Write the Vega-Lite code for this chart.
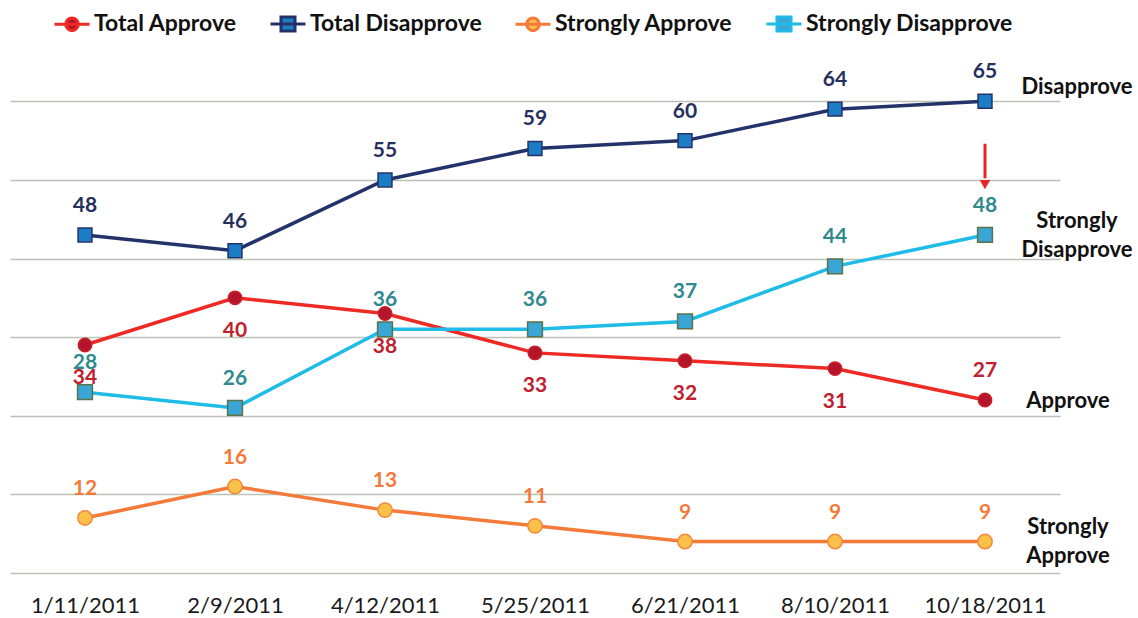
{
  "$schema": "https://vega.github.io/schema/vega-lite/v6.json",
  "autosize": "none",
  "width": 1050,
  "height": 511,
  "padding": {"left": 10, "top": 62, "right": 78, "bottom": 45},
  "background": "white",
  "config": {
    "view": {"stroke": null},
    "font": "Lato"
  },
  "resolve": {"scale": {"color": "independent"}},
  "datasets": {
    "main": [
      {"date": "1/11/2011", "series": "Total Approve", "value": 34},
      {"date": "2/9/2011", "series": "Total Approve", "value": 40},
      {"date": "4/12/2011", "series": "Total Approve", "value": 38},
      {"date": "5/25/2011", "series": "Total Approve", "value": 33},
      {"date": "6/21/2011", "series": "Total Approve", "value": 32},
      {"date": "8/10/2011", "series": "Total Approve", "value": 31},
      {"date": "10/18/2011", "series": "Total Approve", "value": 27},
      {"date": "1/11/2011", "series": "Total Disapprove", "value": 48},
      {"date": "2/9/2011", "series": "Total Disapprove", "value": 46},
      {"date": "4/12/2011", "series": "Total Disapprove", "value": 55},
      {"date": "5/25/2011", "series": "Total Disapprove", "value": 59},
      {"date": "6/21/2011", "series": "Total Disapprove", "value": 60},
      {"date": "8/10/2011", "series": "Total Disapprove", "value": 64},
      {"date": "10/18/2011", "series": "Total Disapprove", "value": 65},
      {"date": "1/11/2011", "series": "Strongly Approve", "value": 12},
      {"date": "2/9/2011", "series": "Strongly Approve", "value": 16},
      {"date": "4/12/2011", "series": "Strongly Approve", "value": 13},
      {"date": "5/25/2011", "series": "Strongly Approve", "value": 11},
      {"date": "6/21/2011", "series": "Strongly Approve", "value": 9},
      {"date": "8/10/2011", "series": "Strongly Approve", "value": 9},
      {"date": "10/18/2011", "series": "Strongly Approve", "value": 9},
      {"date": "1/11/2011", "series": "Strongly Disapprove", "value": 28},
      {"date": "2/9/2011", "series": "Strongly Disapprove", "value": 26},
      {"date": "4/12/2011", "series": "Strongly Disapprove", "value": 36},
      {"date": "5/25/2011", "series": "Strongly Disapprove", "value": 36},
      {"date": "6/21/2011", "series": "Strongly Disapprove", "value": 37},
      {"date": "8/10/2011", "series": "Strongly Disapprove", "value": 44},
      {"date": "10/18/2011", "series": "Strongly Disapprove", "value": 48}
    ],
    "notes": [
      {"date": "10/18/2011", "series": "Total Disapprove", "value": 65, "note": "Disapprove"},
      {"date": "10/18/2011", "series": "Strongly Disapprove", "value": 48, "note": "Strongly|Disapprove"},
      {"date": "10/18/2011", "series": "Total Approve", "value": 27, "note": "Approve"},
      {"date": "10/18/2011", "series": "Strongly Approve", "value": 9, "note": "Strongly|Approve"}
    ],
    "arrow": [
      {"date": "10/18/2011", "from": 59.6, "to": 55.2, "tip": 54.4}
    ]
  },
  "encoding": {
    "x": {
      "field": "date",
      "type": "ordinal",
      "sort": null,
      "scale": {"type": "point", "padding": 0.5, "domain": ["1/11/2011", "2/9/2011", "4/12/2011", "5/25/2011", "6/21/2011", "8/10/2011", "10/18/2011"]},
      "axis": {
        "title": null,
        "labelAngle": 0,
        "labelFont": "Lato",
        "labelFontSize": 22,
        "labelColor": "#1a1a1a",
        "labelPadding": 22,
        "ticks": false,
        "domain": false,
        "grid": false
      }
    }
  },
  "layer": [
    {
      "data": {"name": "main"},
      "mark": {"type": "line", "strokeWidth": 3.5},
      "encoding": {
        "y": {
          "field": "value",
          "type": "quantitative",
          "scale": {"domain": [5, 70], "nice": false, "zero": false},
          "axis": {
            "title": null,
            "labels": false,
            "ticks": false,
            "domain": false,
            "grid": true,
            "gridColor": "#b9c4b6",
            "gridWidth": 1.5,
            "values": [5, 15, 25, 35, 45, 55, 65]
          }
        },
        "color": {
          "field": "series",
          "type": "nominal",
          "scale": {
            "domain": ["Total Approve", "Total Disapprove", "Strongly Approve", "Strongly Disapprove"],
            "range": ["#ee2a24", "#24326a", "#f47a3a", "#1fbce8"]
          },
          "legend": {
            "orient": "none",
            "legendX": 43,
            "legendY": -57,
            "direction": "horizontal",
            "title": null,
            "symbolSize": 1225,
            "symbolStrokeWidth": 3,
            "labelFont": "Lato",
            "labelFontSize": 23,
            "labelFontWeight": "bold",
            "labelColor": "#111111",
            "labelOffset": 3,
            "columnPadding": 27,
            "labelLimit": 400,
            "encode": {
              "symbols": {
                "update": {
                  "size": {"value": 1225},
                  "strokeWidth": {"value": 3},
                  "shape": {"signal": "(datum.value == 'Total Approve' || datum.value == 'Strongly Approve') ? 'M-1,0L1,0M-0.36,0A0.36,0.36,0,1,0,0.36,0A0.36,0.36,0,1,0,-0.36,0Z' : 'M-1,0L1,0M-0.4,-0.4L0.4,-0.4L0.4,0.4L-0.4,0.4Z'"},
                  "fill": {"signal": "datum.value == 'Total Approve' ? '#b5152b' : datum.value == 'Total Disapprove' ? '#1c7cc4' : datum.value == 'Strongly Approve' ? '#f9c14a' : '#3aa6d6'"},
                  "stroke": {"signal": "datum.value == 'Total Approve' ? '#ee2a24' : datum.value == 'Total Disapprove' ? '#24326a' : datum.value == 'Strongly Approve' ? '#f47a3a' : '#1fbce8'"},
                  "fillOpacity": {"value": 1},
                  "opacity": {"value": 1}
                }
              }
            }
          }
        }
      }
    },
    {
      "data": {"name": "main"},
      "mark": {"type": "point", "filled": true, "opacity": 1, "strokeWidth": 1.5},
      "encoding": {
        "y": {"field": "value", "type": "quantitative"},
        "shape": {
          "field": "series",
          "type": "nominal",
          "scale": {
            "domain": ["Total Approve", "Total Disapprove", "Strongly Approve", "Strongly Disapprove"],
            "range": ["circle", "square", "circle", "square"]
          },
          "legend": null
        },
        "size": {
          "field": "series",
          "type": "nominal",
          "scale": {
            "domain": ["Total Approve", "Total Disapprove", "Strongly Approve", "Strongly Disapprove"],
            "range": [180, 220, 180, 220]
          },
          "legend": null
        },
        "fill": {
          "field": "series",
          "type": "nominal",
          "scale": {
            "domain": ["Total Approve", "Total Disapprove", "Strongly Approve", "Strongly Disapprove"],
            "range": ["#b5152b", "#1c7cc4", "#f9c14a", "#3aa6d6"]
          },
          "legend": null
        },
        "stroke": {
          "field": "series",
          "type": "nominal",
          "scale": {
            "domain": ["Total Approve", "Total Disapprove", "Strongly Approve", "Strongly Disapprove"],
            "range": ["#c8202c", "#24326a", "#f4893a", "#5c7248"]
          },
          "legend": null
        }
      }
    },
    {
      "data": {"name": "main"},
      "transform": [{"filter": "datum.series == 'Total Disapprove'"}],
      "mark": {"type": "text", "fontSize": 21, "fontWeight": "bold", "font": "Lato", "dy": -29, "baseline": "middle", "color": "#25305f"},
      "encoding": {
        "y": {"field": "value", "type": "quantitative"},
        "text": {"field": "value", "type": "quantitative"}
      }
    },
    {
      "data": {"name": "main"},
      "transform": [{"filter": "datum.series == 'Strongly Disapprove'"}],
      "mark": {"type": "text", "fontSize": 21, "fontWeight": "bold", "font": "Lato", "dy": -29, "baseline": "middle", "color": "#2e8a8f"},
      "encoding": {
        "y": {"field": "value", "type": "quantitative"},
        "text": {"field": "value", "type": "quantitative"}
      }
    },
    {
      "data": {"name": "main"},
      "transform": [{"filter": "datum.series == 'Strongly Approve'"}],
      "mark": {"type": "text", "fontSize": 21, "fontWeight": "bold", "font": "Lato", "dy": -29, "baseline": "middle", "color": "#f47a3a"},
      "encoding": {
        "y": {"field": "value", "type": "quantitative"},
        "text": {"field": "value", "type": "quantitative"}
      }
    },
    {
      "data": {"name": "main"},
      "transform": [{"filter": "datum.series == 'Total Approve' && datum.date != '10/18/2011'"}],
      "mark": {"type": "text", "fontSize": 21, "fontWeight": "bold", "font": "Lato", "dy": 33, "baseline": "middle", "color": "#c0212f"},
      "encoding": {
        "y": {"field": "value", "type": "quantitative"},
        "text": {"field": "value", "type": "quantitative"}
      }
    },
    {
      "data": {"name": "main"},
      "transform": [{"filter": "datum.series == 'Total Approve' && datum.date == '10/18/2011'"}],
      "mark": {"type": "text", "fontSize": 21, "fontWeight": "bold", "font": "Lato", "dy": -29, "baseline": "middle", "color": "#c0212f"},
      "encoding": {
        "y": {"field": "value", "type": "quantitative"},
        "text": {"field": "value", "type": "quantitative"}
      }
    },
    {
      "data": {"name": "notes"},
      "transform": [{"filter": "datum.series == 'Total Disapprove' || datum.series == 'Strongly Disapprove'"}],
      "mark": {"type": "text", "fontSize": 22, "fontWeight": "bold", "font": "Lato", "color": "#111111", "align": "center", "baseline": "middle", "dx": 92, "dy": -14, "lineBreak": "|", "lineHeight": 29},
      "encoding": {
        "y": {"field": "value", "type": "quantitative"},
        "text": {"field": "note", "type": "nominal"}
      }
    },
    {
      "data": {"name": "notes"},
      "transform": [{"filter": "datum.series == 'Total Approve'"}],
      "mark": {"type": "text", "fontSize": 22, "fontWeight": "bold", "font": "Lato", "color": "#111111", "align": "center", "baseline": "middle", "dx": 83, "dy": 1},
      "encoding": {
        "y": {"field": "value", "type": "quantitative"},
        "text": {"field": "note", "type": "nominal"}
      }
    },
    {
      "data": {"name": "notes"},
      "transform": [{"filter": "datum.series == 'Strongly Approve'"}],
      "mark": {"type": "text", "fontSize": 22, "fontWeight": "bold", "font": "Lato", "color": "#111111", "align": "center", "baseline": "middle", "dx": 83, "dy": -15, "lineBreak": "|", "lineHeight": 29},
      "encoding": {
        "y": {"field": "value", "type": "quantitative"},
        "text": {"field": "note", "type": "nominal"}
      }
    },
    {
      "data": {"name": "arrow"},
      "mark": {"type": "rule", "color": "#e8262a", "strokeWidth": 3},
      "encoding": {
        "y": {"field": "from", "type": "quantitative"},
        "y2": {"field": "to"}
      }
    },
    {
      "data": {"name": "arrow"},
      "mark": {"type": "point", "shape": "triangle-down", "filled": true, "color": "#e8262a", "size": 110, "opacity": 1},
      "encoding": {
        "y": {"field": "tip", "type": "quantitative"}
      }
    }
  ]
}
